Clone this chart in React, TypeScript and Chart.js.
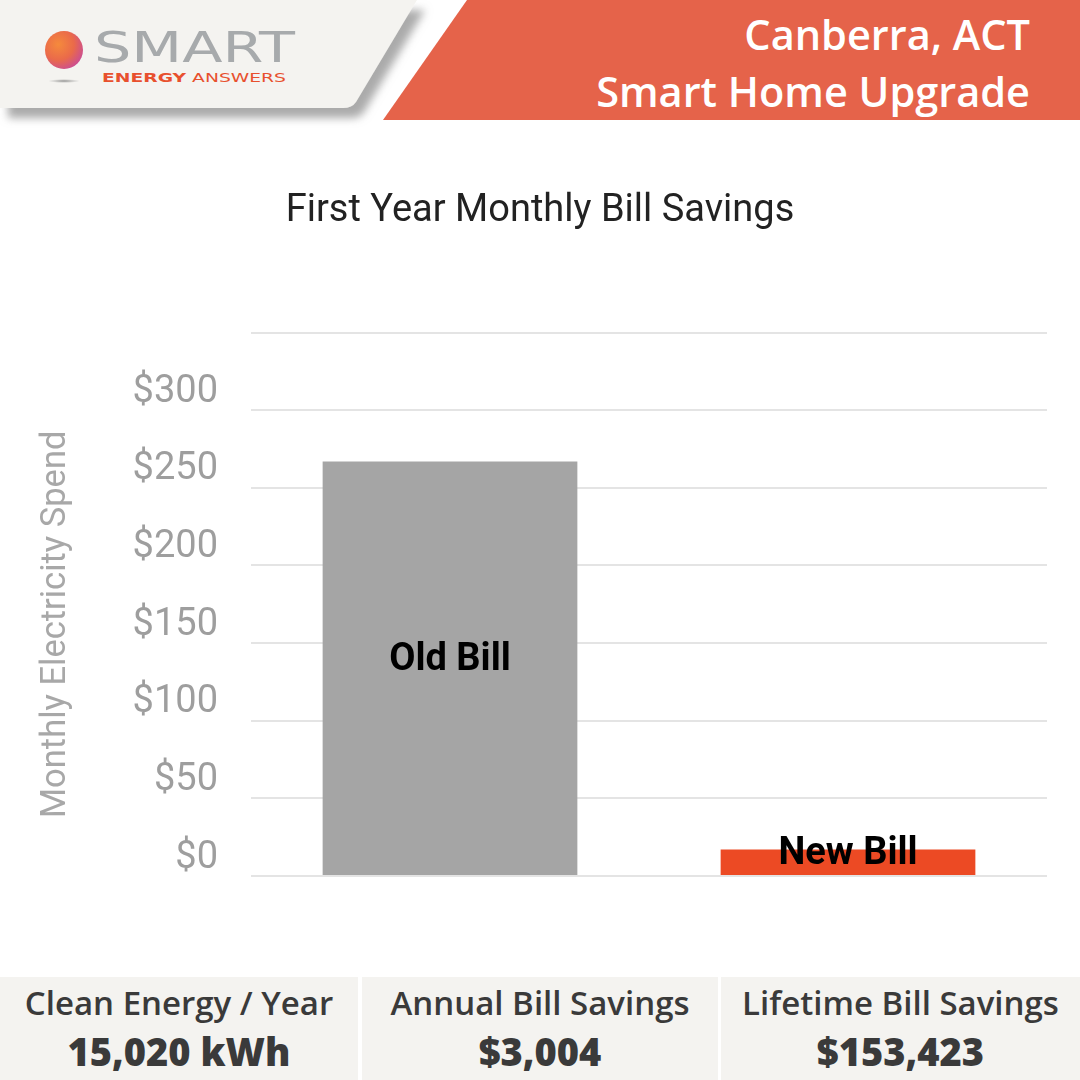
import React, { useEffect, useRef } from "react";
import { Chart, registerables } from "chart.js";

Chart.register(...registerables);

const categories = ["Old Bill", "New Bill"];
const monthlySpend = [267, 17];
const barColors = ["#a5a5a5", "#ec4a24"];
const yTickValues = [0, 50, 100, 150, 200, 250, 300];
const yMax = 350;
const statLabels = ["Clean Energy / Year", "Annual Bill Savings", "Lifetime Bill Savings"];
const statValues = ["15,020 kWh", "$3,004", "$153,423"];

const barLabelPlugin = {
  id: "barLabels",
  afterDatasetsDraw(chart: any) {
    const ctx = chart.ctx;
    const meta = chart.getDatasetMeta(0);
    ctx.save();
    ctx.font = "bold 38px Roboto";
    ctx.fillStyle = "#000";
    ctx.textAlign = "center";
    ctx.textBaseline = "middle";
    meta.data.forEach((bar: any, i: number) => {
      const y = (bar.y + bar.base) / 2 - 8;
      ctx.fillText(chart.data.labels[i], bar.x, y);
    });
    ctx.restore();
  },
};

const yTitlePlugin = {
  id: "yTitle",
  afterDraw(chart: any) {
    const ctx = chart.ctx;
    const ca = chart.chartArea;
    ctx.save();
    ctx.translate(56, (ca.top + ca.bottom) / 2 + 20);
    ctx.rotate(-Math.PI / 2);
    ctx.font = "34.5px Roboto";
    ctx.fillStyle = "#a8a8a8";
    ctx.textAlign = "center";
    ctx.textBaseline = "middle";
    ctx.fillText("Monthly Electricity Spend", 0, 0);
    ctx.restore();
  },
};

function BillChart() {
  const ref = useRef<HTMLCanvasElement>(null);
  useEffect(() => {
    if (!ref.current) return;
    const chart = new Chart(ref.current, {
      type: "bar",
      data: {
        labels: categories,
        datasets: [
          {
            data: monthlySpend,
            backgroundColor: barColors,
            borderWidth: 0,
            barPercentage: 0.64,
            categoryPercentage: 1,
          },
        ],
      },
      options: {
        responsive: false,
        animation: false,
        devicePixelRatio: 1,
        layout: { padding: { left: 33, right: 33, top: 0, bottom: 56 } },
        plugins: {
          legend: { display: false },
          tooltip: { enabled: false },
          title: {
            display: true,
            text: "First Year Monthly Bill Savings",
            color: "#222",
            font: { family: "Roboto", size: 38, weight: "normal", lineHeight: 1.2 },
            padding: { top: 49, bottom: 98 },
          },
        },
        scales: {
          x: { display: false },
          y: {
            min: 0,
            max: yMax,
            afterFit: (scale: any) => {
              scale.width = 218;
            },
            afterBuildTicks: (scale: any) => {
              scale.ticks = [...yTickValues, yMax].map((v) => ({ value: v }));
            },
            border: { display: false },
            grid: { color: "#e4e4e4", lineWidth: 2, drawTicks: false },
            ticks: {
              color: "#9e9e9e",
              font: { family: "Roboto", size: 38 },
              padding: 33,
              labelOffset: -18,
              callback: (v: any) => (Number(v) === yMax ? "" : "$" + v),
            },
          },
        },
      },
      plugins: [barLabelPlugin, yTitlePlugin],
    } as any);
    return () => chart.destroy();
  }, []);
  return (
    <canvas
      ref={ref}
      width={1080}
      height={792}
      style={{ position: "absolute", left: 0, top: 140, width: 1080, height: 792 }}
    />
  );
}

function Header() {
  return (
    <svg width={1080} height={135} style={{ position: "absolute", left: 0, top: 0 }}>
      <defs>
        <filter id="sh" x="-10%" y="-20%" width="130%" height="160%">
          <feDropShadow dx="8" dy="10" stdDeviation="4" floodColor="#8f8f8f" floodOpacity="0.75" />
        </filter>
        <radialGradient id="ball" cx="35%" cy="35%" r="75%">
          <stop offset="0%" stopColor="#f58a3c" />
          <stop offset="55%" stopColor="#ea6a4a" />
          <stop offset="100%" stopColor="#c84a9a" />
        </radialGradient>
        <radialGradient id="ballsh" cx="50%" cy="50%" r="50%">
          <stop offset="0%" stopColor="#777" stopOpacity="0.8" />
          <stop offset="100%" stopColor="#999" stopOpacity="0" />
        </radialGradient>
      </defs>
      <path
        d="M0,0 L417,0 L356,102 Q352,108 343,108 L0,108 Z"
        fill="#f4f3f0"
        filter="url(#sh)"
      />
      <polygon points="467,0 1080,0 1080,120 383,120" fill="#e5634a" />
      <circle cx={64} cy={50} r={19} fill="url(#ball)" />
      <ellipse cx={64} cy={81} rx={16} ry={2} fill="url(#ballsh)" />
      <text
        x={94}
        y={62}
        fontFamily="DejaVu Sans"
        fontSize={42}
        fill="#a7aaac"
        textLength={201}
        lengthAdjust="spacingAndGlyphs"
      >
        SMART
      </text>
      <text x={102} y={82} fontFamily="DejaVu Sans" fontSize={13} fill="#e8502e" textLength={184} lengthAdjust="spacingAndGlyphs">
        <tspan fontWeight="bold">ENERGY</tspan> ANSWERS
      </text>
      <text x={1030} y={50} textAnchor="end" fontFamily="Open Sans" fontWeight={600} fontSize={41.5} fill="#fff">
        Canberra, ACT
      </text>
      <text x={1030} y={107} textAnchor="end" fontFamily="Open Sans" fontWeight={600} fontSize={41.5} fill="#fff">
        Smart Home Upgrade
      </text>
    </svg>
  );
}

function Stats() {
  const boxes = [
    { left: 0, width: 358 },
    { left: 362, width: 356 },
    { left: 721, width: 359 },
  ];
  return (
    <>
      {boxes.map((b, i) => (
        <div
          key={i}
          style={{
            position: "absolute",
            left: b.left,
            top: 977,
            width: b.width,
            height: 103,
            background: "#f4f3f0",
            color: "#3a3a3a",
            fontFamily: "Open Sans",
            textAlign: "center",
            whiteSpace: "nowrap",
          }}
        >
          <div style={{ position: "absolute", left: 0, right: 0, top: 6, fontSize: 33, fontWeight: 600, lineHeight: "40px" }}>
            {statLabels[i]}
          </div>
          <div style={{ position: "absolute", left: 0, right: 0, top: 52, fontSize: 38, fontWeight: 800, lineHeight: "44px" }}>
            {statValues[i]}
          </div>
        </div>
      ))}
    </>
  );
}

export default function App() {
  return (
    <div style={{ position: "absolute", left: 0, top: 0, width: 1080, height: 1080, background: "#fff", overflow: "hidden" }}>
      <Header />
      <BillChart />
      <Stats />
    </div>
  );
}
